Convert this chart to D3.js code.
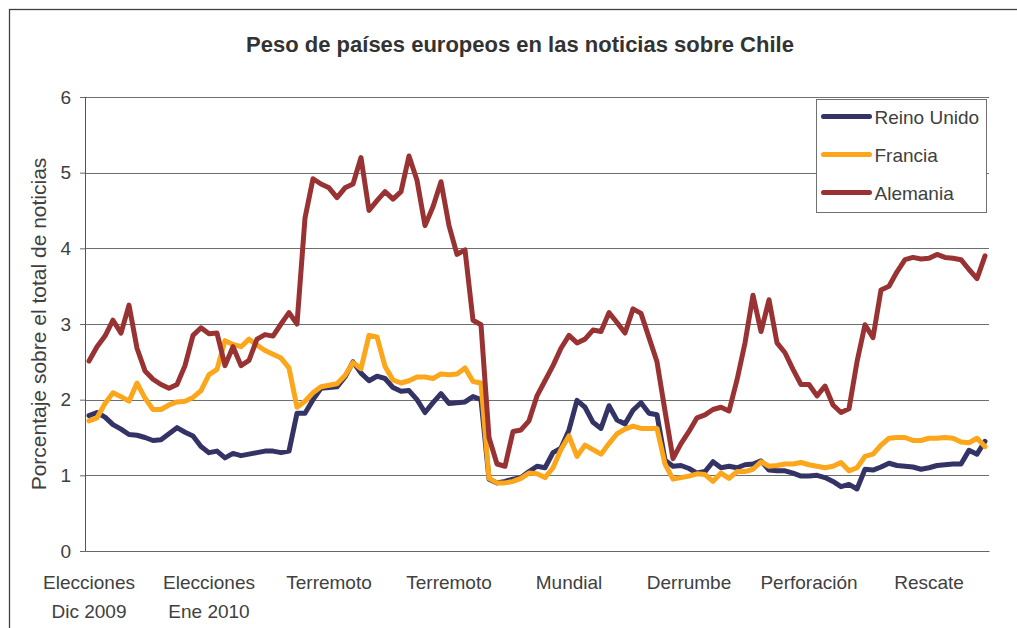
<!DOCTYPE html>
<html>
<head>
<meta charset="utf-8">
<script src="https://cdn.jsdelivr.net/npm/d3@7"></script>
<style>
  body { margin: 0; background: #fff; }
  svg { display: block; font-family: Arial, 'Liberation Sans', sans-serif; }
  .tick text { fill: #404040; }
</style>
</head>
<body>
<div id="chart"></div>
<script>
// etiquetas del eje x (cada 15 puntos)
var eventos = [
  ['Elecciones', 'Dic 2009'],
  ['Elecciones', 'Ene 2010'],
  ['Terremoto'],
  ['Terremoto'],
  ['Mundial'],
  ['Derrumbe'],
  ['Perforación'],
  ['Rescate']
];
var paso = 15;

var series = ['Reino Unido', 'Francia', 'Alemania'];
var colores = ['#333366', '#FCA61C', '#993333'];

var reinoUnido = [
  1.79, 1.83, 1.77, 1.67, 1.61, 1.54, 1.53, 1.50, 1.46, 1.47,
  1.55, 1.63, 1.57, 1.52, 1.38, 1.30, 1.32, 1.23, 1.29, 1.26,
  1.28, 1.30, 1.32, 1.32, 1.30, 1.32, 1.82, 1.82, 2.00, 2.15,
  2.16, 2.17, 2.30, 2.50, 2.35, 2.25, 2.31, 2.28, 2.16, 2.11,
  2.12, 2.00, 1.83, 1.96, 2.08, 1.95, 1.96, 1.97, 2.04, 2.00,
  0.95, 0.90, 0.92, 0.95, 0.97, 1.05, 1.12, 1.10, 1.30, 1.36,
  1.60, 1.99, 1.90, 1.70, 1.62, 1.92, 1.73, 1.68, 1.86, 1.96,
  1.82, 1.80, 1.20, 1.12, 1.13, 1.09, 1.03, 1.05, 1.18, 1.10,
  1.12, 1.10, 1.14, 1.15, 1.19, 1.07, 1.06, 1.06, 1.03, 0.99,
  0.99, 1.00, 0.97, 0.92, 0.85, 0.88, 0.82, 1.08, 1.07, 1.11,
  1.16, 1.13, 1.12, 1.11, 1.08, 1.10, 1.13, 1.14, 1.15, 1.15,
  1.33, 1.28, 1.45
];

var francia = [
  1.72, 1.76, 1.95, 2.09, 2.04, 1.98, 2.22, 2.02, 1.87, 1.87,
  1.93, 1.97, 1.98, 2.03, 2.12, 2.33, 2.40, 2.78, 2.73, 2.70,
  2.80, 2.72, 2.65, 2.60, 2.55, 2.42, 1.90, 1.98, 2.09, 2.17,
  2.19, 2.21, 2.32, 2.49, 2.41, 2.85, 2.83, 2.44, 2.26, 2.22,
  2.25, 2.30, 2.30, 2.28, 2.34, 2.33, 2.34, 2.42, 2.24, 2.22,
  0.96, 0.90, 0.90, 0.92, 0.96, 1.03, 1.02, 0.97, 1.10, 1.34,
  1.52, 1.25, 1.40, 1.34, 1.28, 1.42, 1.55, 1.61, 1.65, 1.62,
  1.62, 1.62, 1.15, 0.95, 0.97, 0.99, 1.02, 1.01, 0.92, 1.03,
  0.96, 1.05, 1.05, 1.08, 1.18, 1.12, 1.13, 1.15, 1.15, 1.17,
  1.14, 1.12, 1.10, 1.12, 1.17, 1.06, 1.10, 1.25, 1.28, 1.40,
  1.49, 1.50, 1.50, 1.46, 1.46, 1.49, 1.49, 1.50, 1.49, 1.44,
  1.43, 1.49, 1.38
];

var alemania = [
  2.51, 2.70, 2.84, 3.05, 2.88, 3.25, 2.68, 2.38, 2.27, 2.20,
  2.15, 2.20, 2.45, 2.85, 2.95, 2.87, 2.88, 2.45, 2.70, 2.45,
  2.52, 2.80, 2.86, 2.84, 3.00, 3.15, 3.00, 4.40, 4.92, 4.85,
  4.80, 4.67, 4.80, 4.85, 5.20, 4.50, 4.63, 4.75, 4.65, 4.75,
  5.22, 4.90, 4.30, 4.55, 4.88, 4.30, 3.92, 3.98, 3.05, 2.99,
  1.50, 1.15, 1.12, 1.58, 1.60, 1.72, 2.05, 2.25, 2.45, 2.68,
  2.85, 2.75, 2.80, 2.92, 2.90, 3.15, 3.02, 2.88, 3.20, 3.14,
  2.82, 2.50, 1.85, 1.22, 1.42, 1.58, 1.76, 1.80, 1.87, 1.90,
  1.85, 2.26, 2.75, 3.38, 2.90, 3.32, 2.75, 2.62, 2.40, 2.20,
  2.20, 2.05, 2.18, 1.93, 1.83, 1.88, 2.50, 2.99, 2.82, 3.45,
  3.50, 3.69, 3.85, 3.88, 3.86, 3.87, 3.92, 3.88, 3.87, 3.85,
  3.72, 3.60, 3.90
];

var yTicks = [0, 1, 2, 3, 4, 5, 6];

var datos = [reinoUnido, francia, alemania];

var width = 1017, height = 628;
var margin = { top: 97, right: 28, bottom: 77, left: 85 };
var innerW = width - margin.left - margin.right;
var innerH = height - margin.top - margin.bottom;

var svg = d3.select('#chart')
  .append('svg')
  .attr('width', width)
  .attr('height', height);

// marco exterior
svg.append('rect')
  .attr('x', 9.5)
  .attr('y', 9.5)
  .attr('width', width + 20)
  .attr('height', height + 20)
  .attr('fill', 'none')
  .attr('stroke', '#404040')
  .attr('stroke-width', 1.3);

svg.append('text')
  .attr('x', 520)
  .attr('y', 52)
  .attr('text-anchor', 'middle')
  .attr('font-size', 22)
  .attr('font-weight', 'bold')
  .attr('fill', '#333')
  .text('Peso de países europeos en las noticias sobre Chile');

var g = svg.append('g')
  .attr('transform', 'translate(' + margin.left + ',' + margin.top + ')');

var x = d3.scaleBand()
  .domain(d3.range(reinoUnido.length))
  .range([0, innerW]);

var y = d3.scaleLinear()
  .domain([0, 6])
  .range([innerH, 0]);

// lineas de grilla
g.append('g')
  .selectAll('line')
  .data(yTicks.slice(1))
  .enter()
  .append('line')
  .attr('x1', 0)
  .attr('x2', innerW)
  .attr('y1', function(d) { return Math.round(y(d)) + 0.5; })
  .attr('y2', function(d) { return Math.round(y(d)) + 0.5; })
  .attr('stroke', '#6e6e6e')
  .attr('stroke-width', 1);

var yAxis = d3.axisLeft(y)
  .tickValues(yTicks)
  .tickSize(5)
  .tickPadding(9)
  .tickFormat(d3.format('d'));

var yg = g.append('g')
  .attr('class', 'y axis')
  .call(yAxis);
yg.selectAll('text').attr('font-size', 19).attr('font-family', 'Arial, Liberation Sans, sans-serif');
yg.selectAll('line').attr('stroke', '#666');
yg.select('.domain').attr('stroke', '#555');

var xAxis = d3.axisBottom(x)
  .tickValues(d3.range(0, reinoUnido.length, paso))
  .tickSize(0)
  .tickPadding(0)
  .tickFormat('');

var xg = g.append('g')
  .attr('class', 'x axis')
  .attr('transform', 'translate(0,' + innerH + ')')
  .call(xAxis);
xg.select('.domain').attr('stroke', '#666');
xg.selectAll('.tick text')
  .attr('font-size', 19)
  .attr('font-family', 'Arial, Liberation Sans, sans-serif')
  .attr('dy', null)
  .attr('y', 0)
  .each(function(d) {
    var lineas = eventos[d / paso];
    var t = d3.select(this);
    lineas.forEach(function(l, k) {
      t.append('tspan')
        .attr('x', 0)
        .attr('y', 38 + k * 29)
        .text(l);
    });
  });

// titulo eje y
svg.append('text')
  .attr('transform', 'translate(46,' + (margin.top + innerH / 2) + ') rotate(-90)')
  .attr('text-anchor', 'middle')
  .attr('font-size', 21)
  .attr('fill', '#404040')
  .text('Porcentaje sobre el total de noticias');

var line = d3.line()
  .x(function(d, i) { return x(i) + x.bandwidth() / 2; })
  .y(function(d) { return y(d); });

g.append('g')
  .selectAll('path')
  .data(datos)
  .enter()
  .append('path')
  .attr('d', line)
  .attr('fill', 'none')
  .attr('stroke', function(d, i) { return colores[i]; })
  .attr('stroke-width', 5)
  .attr('stroke-linejoin', 'round')
  .attr('stroke-linecap', 'round');

// leyenda
var leg = svg.append('g').attr('transform', 'translate(816.5,99.5)');
leg.append('rect')
  .attr('width', 170)
  .attr('height', 113)
  .attr('fill', '#fff')
  .attr('stroke', '#707070')
  .attr('stroke-width', 1);

var item = leg.selectAll('.item')
  .data(series)
  .enter()
  .append('g')
  .attr('class', 'item')
  .attr('transform', function(d, i) { return 'translate(0,' + (17 + i * 38) + ')'; });

item.append('line')
  .attr('x1', 7)
  .attr('x2', 53)
  .attr('stroke', function(d, i) { return colores[i]; })
  .attr('stroke-width', 5)
  .attr('stroke-linecap', 'round');

item.append('text')
  .attr('x', 58)
  .attr('y', 7)
  .attr('font-size', 19)
  .attr('fill', '#404040')
  .text(function(d) { return d; });
</script>
</body>
</html>
